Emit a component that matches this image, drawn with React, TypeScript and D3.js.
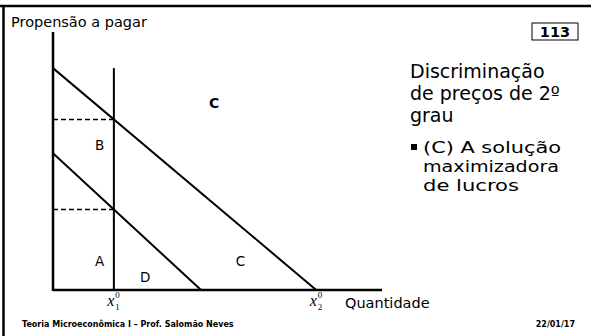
import React from "react";
import * as d3 from "d3";

// demand curves in (quantity, price) units
const highDemand = [
  { q: 0, p: 86 },
  { q: 80, p: 0 },
];
const lowDemand = [
  { q: 0, p: 53 },
  { q: 45, p: 0 },
];
const x1 = 18.5;
const x2 = 80;

const areaLabels = [
  { text: "C", q: 49, p: 72, bold: true },
  { text: "B", q: 14.2, p: 56, bold: false },
  { text: "A", q: 14.2, p: 11, bold: false },
  { text: "D", q: 28, p: 4.5, bold: false },
  { text: "C", q: 57, p: 11, bold: false },
];

const titleLines = ["Discriminação", "de preços de 2º", "grau"];
const bulletLines = ["(C) A solução", "maximizadora", "de lucros"];
const bulletWidths = [138, 136, 96];

const W = 591;
const H = 336;
const font = "'DejaVu Sans', sans-serif";

function priceAt(curve: { q: number; p: number }[], q: number) {
  const [a, b] = curve;
  return a.p + ((b.p - a.p) * (q - a.q)) / (b.q - a.q);
}

function XLabel({ x, sub }: { x: number; sub: string }) {
  return (
    <g fontFamily="'Liberation Serif', serif">
      <text x={x - 3} y={306} fontSize={16} fontStyle="italic" textAnchor="middle">
        x
      </text>
      <text x={x + 1.5} y={298} fontSize={9} textAnchor="start">
        0
      </text>
      <text x={x + 1.5} y={310} fontSize={9} textAnchor="start">
        {sub}
      </text>
    </g>
  );
}

export default function App() {
  const x = d3.scaleLinear().domain([0, 100]).range([53, 382]);
  const y = d3.scaleLinear().domain([0, 100]).range([290, 32]);

  const line = d3
    .line<{ q: number; p: number }>()
    .x((d) => x(d.q))
    .y((d) => y(d.p));

  const pHigh = priceAt(highDemand, x1);
  const pLow = priceAt(lowDemand, x1);

  return (
    <div style={{ position: "absolute", left: 0, top: 0 }}>
      <svg width={W} height={H} style={{ display: "block", background: "#fff" }}>
        {/* slide frame */}
        <line x1={0} x2={W} y1={6} y2={6} stroke="#000" strokeWidth={2.5} />
        <line x1={3.5} x2={3.5} y1={6} y2={H} stroke="#000" strokeWidth={2.5} />

        <text x={11} y={27} fontFamily={font} fontSize={14.5}>
          Propensão a pagar
        </text>

        {/* axes */}
        <line x1={x(0)} x2={x(0)} y1={y(100)} y2={y(0) + 1} stroke="#000" strokeWidth={2.5} />
        <line x1={x(0)} x2={x(100)} y1={y(0)} y2={y(0)} stroke="#000" strokeWidth={2.5} />

        {/* x1 vertical */}
        <line
          x1={x(x1)}
          x2={x(x1)}
          y1={y(highDemand[0].p)}
          y2={y(0)}
          stroke="#000"
          strokeWidth={2}
        />

        {/* dashed price levels */}
        {[pHigh, pLow].map((p, i) => (
          <line
            key={i}
            x1={x(0)}
            x2={x(x1)}
            y1={y(p)}
            y2={y(p)}
            stroke="#000"
            strokeWidth={1.5}
            strokeDasharray="5,3"
          />
        ))}

        <path d={line(highDemand) ?? ""} stroke="#000" strokeWidth={2} fill="none" />
        <path d={line(lowDemand) ?? ""} stroke="#000" strokeWidth={2} fill="none" />

        {areaLabels.map((l, i) => (
          <text
            key={i}
            x={x(l.q)}
            y={y(l.p)}
            fontFamily={font}
            fontSize={l.bold ? 14 : 13.5}
            fontWeight={l.bold ? "bold" : "normal"}
            textAnchor="middle"
            dominantBaseline="middle"
          >
            {l.text}
          </text>
        ))}

        <XLabel x={x(x1)} sub="1" />
        <XLabel x={x(x2)} sub="2" />

        <text x={345} y={308} fontFamily={font} fontSize={14.5}>
          Quantidade
        </text>

        {/* page number */}
        <rect x={532} y={23} width={46} height={17} fill="none" stroke="#000" strokeWidth={1} />
        <text x={555} y={37} fontFamily={font} fontSize={14.5} fontWeight="bold" textAnchor="middle">
          113
        </text>

        {titleLines.map((t, i) => (
          <text key={i} x={410} y={78 + i * 22} fontFamily={font} fontSize={19}>
            {t}
          </text>
        ))}

        <rect x={411} y={144} width={6} height={6} fill="#000" />
        {bulletLines.map((t, i) => (
          <text
            key={i}
            x={423}
            y={153 + i * 19}
            fontFamily={font}
            fontSize={16}
            textLength={bulletWidths[i]}
            lengthAdjust="spacingAndGlyphs"
          >
            {t}
          </text>
        ))}

        <text x={22} y={327} fontFamily={font} fontSize={8} fontWeight="bold">
          Teoria Microeconômica I – Prof. Salomão Neves
        </text>
        <text x={575} y={327} fontFamily={font} fontSize={8} fontWeight="bold" textAnchor="end">
          22/01/17
        </text>
      </svg>
    </div>
  );
}
